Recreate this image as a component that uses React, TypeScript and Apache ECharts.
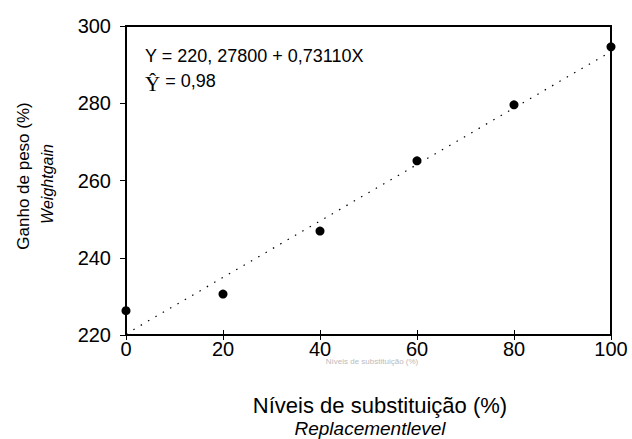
import React, { useEffect, useRef } from "react";
import * as echarts from "echarts";

const levels = [0, 20, 40, 60, 80, 100];
const weightGain = [226.3, 230.6, 246.9, 265.1, 279.6, 294.6];
const intercept = 220.278;
const slope = 0.7311;
const fitX = [0, 100];
const yTicks = [220, 240, 260, 280, 300];
const xTicks = [0, 20, 40, 60, 80, 100];

export default function App() {
  const ref = useRef<HTMLDivElement>(null);
  useEffect(() => {
    if (!ref.current) return;
    const chart = echarts.init(ref.current, null, { renderer: "svg" });
    const font = "Liberation Sans, Arial, sans-serif";
    const xBase = {
      type: "value",
      min: xTicks[0],
      max: xTicks[xTicks.length - 1],
      interval: 20,
      splitLine: { show: false },
    };
    chart.setOption({
      animation: false,
      backgroundColor: "#fff",
      grid: {
        left: 126,
        right: 21,
        top: 26,
        bottom: 104,
        show: true,
        borderColor: "#000",
        borderWidth: 2,
      },
      xAxis: [
        {
          ...xBase,
          axisLine: { show: true, onZero: false, lineStyle: { color: "#000", width: 2 } },
          axisTick: { show: true, inside: true, length: 5, lineStyle: { color: "#000", width: 1 } },
          axisLabel: { color: "#000", fontSize: 20, fontFamily: font, margin: 4 },
        },
        {
          ...xBase,
          position: "bottom",
          axisLine: { show: false, onZero: false },
          axisTick: { show: true, inside: false, length: 5, lineStyle: { color: "#000", width: 1 } },
          axisLabel: { show: false },
        },
      ],
      yAxis: {
        type: "value",
        min: yTicks[0],
        max: yTicks[yTicks.length - 1],
        interval: 20,
        axisLine: { show: true, onZero: false, lineStyle: { color: "#000", width: 2 } },
        axisTick: { show: true, inside: false, length: 6, lineStyle: { color: "#000", width: 1 } },
        axisLabel: { color: "#000", fontSize: 20, fontFamily: font, margin: 15 },
        splitLine: { show: false },
      },
      series: [
        {
          type: "line",
          data: fitX.map((x) => [x, intercept + slope * x]),
          symbol: "none",
          lineStyle: { color: "#000", width: 1.2, type: [1.5, 7] },
          z: 1,
        },
        {
          type: "scatter",
          data: levels.map((x, i) => [x, weightGain[i]]),
          symbol: "circle",
          symbolSize: 9,
          itemStyle: { color: "#000", opacity: 1 },
          z: 2,
        },
      ],
      graphic: [
        {
          type: "text",
          x: 145,
          y: 56,
          style: {
            text: "Y = 220, 27800 + 0,73110X",
            fontSize: 18,
            fontFamily: font,
            fill: "#000",
            verticalAlign: "middle",
          },
        },
        {
          type: "text",
          x: 145,
          y: 81,
          style: {
            text: "{s|Ŷ}{n| = 0,98}",
            verticalAlign: "middle",
            rich: {
              s: { fontSize: 21, fontFamily: "Liberation Serif, Times New Roman, serif", fill: "#000", padding: [6, 0, 0, 0] },
              n: { fontSize: 18, fontFamily: font, fill: "#000" },
            },
          },
        },
        {
          type: "text",
          x: 23,
          y: 176,
          rotation: Math.PI / 2,
          style: {
            text: "Ganho de peso (%)",
            fontSize: 17,
            fontFamily: font,
            fill: "#000",
            align: "center",
            verticalAlign: "middle",
          },
        },
        {
          type: "text",
          x: 47,
          y: 184,
          rotation: Math.PI / 2,
          style: {
            text: "Weightgain",
            fontSize: 16,
            fontStyle: "italic",
            fontFamily: font,
            fill: "#000",
            align: "center",
            verticalAlign: "middle",
          },
        },
        {
          type: "text",
          x: 380,
          y: 405,
          style: {
            text: "Níveis de substituição (%)",
            fontSize: 22,
            fontFamily: font,
            fill: "#000",
            align: "center",
            verticalAlign: "middle",
          },
        },
        {
          type: "text",
          x: 370,
          y: 428,
          style: {
            text: "Replacementlevel",
            fontSize: 19,
            fontStyle: "italic",
            fontFamily: font,
            fill: "#000",
            align: "center",
            verticalAlign: "middle",
          },
        },
        {
          type: "text",
          x: 372,
          y: 361,
          style: {
            text: "Níveis de substituição (%)",
            fontSize: 8,
            letterSpacing: 4,
            fontFamily: font,
            fill: "#bbb",
            align: "center",
            verticalAlign: "middle",
          },
        },
      ],
    });
    return () => chart.dispose();
  }, []);
  return (
    <div
      ref={ref}
      style={{ position: "absolute", left: 0, top: 0, width: 632, height: 439 }}
    />
  );
}
